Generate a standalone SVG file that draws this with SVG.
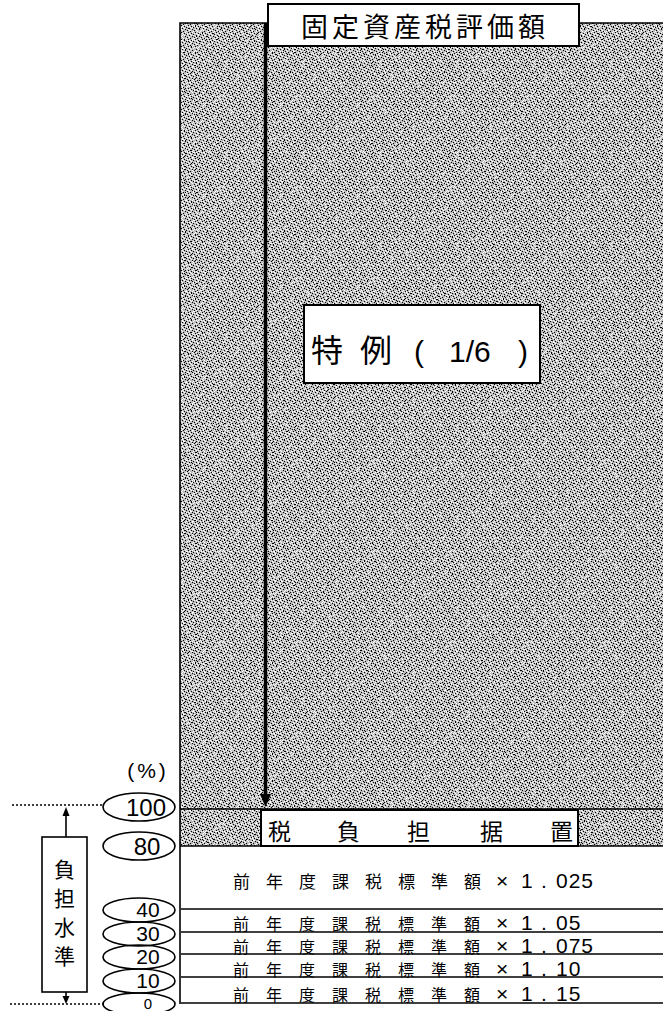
<svg xmlns="http://www.w3.org/2000/svg" width="663" height="1011" viewBox="0 0 663 1011">
<defs>
<style>
.jp{font-family:"Noto Sans CJK JP","Noto Sans CJK SC",sans-serif;fill:#000}
.num{font-family:"Liberation Sans",Arial,sans-serif;fill:#000}
.box{fill:#fff;stroke:#000;stroke-width:2}
.ln{stroke:#000;stroke-width:1.6;fill:none}
.dot{stroke:#000;stroke-width:1.5;stroke-dasharray:2 2;fill:none}
.ell{fill:none;stroke:#000;stroke-width:1.6}
.k{fill:#000}
.w{fill:#fff}
</style>
<pattern id="noiseA" x="0" y="0" width="7" height="7" patternUnits="userSpaceOnUse">
<rect width="7" height="7" fill="#bcbcbc"/>
<rect class="k" x="0" y="0" width="1" height="1"/><rect class="k" x="3" y="1" width="1" height="1"/><rect class="k" x="5" y="2" width="1" height="1"/><rect class="k" x="1" y="3" width="1" height="1"/><rect class="k" x="6" y="4" width="1" height="1"/><rect class="k" x="2" y="5" width="1" height="1"/><rect class="k" x="4" y="6" width="1" height="1"/>
<rect class="w" x="2" y="0" width="1" height="1"/><rect class="w" x="6" y="1" width="1" height="1"/><rect class="w" x="0" y="2" width="1" height="1"/><rect class="w" x="4" y="3" width="1" height="1"/><rect class="w" x="3" y="4" width="1" height="1"/><rect class="w" x="1" y="6" width="1" height="1"/><rect class="w" x="5" y="5" width="1" height="1"/><rect class="w" x="0" y="5" width="1" height="1"/>
</pattern>
<pattern id="noiseB" x="0" y="0" width="11" height="13" patternUnits="userSpaceOnUse">
<rect class="k" x="1" y="2" width="1" height="1"/><rect class="k" x="8" y="0" width="1" height="1"/><rect class="k" x="4" y="7" width="1" height="1"/><rect class="k" x="9" y="10" width="1" height="1"/>
<rect class="w" x="5" y="1" width="1" height="1"/><rect class="w" x="10" y="5" width="1" height="1"/><rect class="w" x="0" y="8" width="1" height="1"/><rect class="w" x="7" y="12" width="1" height="1"/><rect class="w" x="3" y="4" width="1" height="1"/><rect class="w" x="6" y="9" width="1" height="1"/>
</pattern>
</defs>
<rect width="663" height="1011" fill="#fff"/>

<g id="gray-area">
<rect fill="url(#noiseA)" x="180" y="23" width="483" height="823"/>
<rect fill="url(#noiseB)" x="180" y="23" width="483" height="823"/>
<path class="ln" d="M180,1004 V23 H663" stroke-width="2"/>
<line class="ln" x1="180" y1="809" x2="663" y2="809" stroke-width="2"/>
<line class="ln" x1="180" y1="846" x2="663" y2="846"/>
</g>

<g id="title">
<rect class="box" x="268" y="4" width="311" height="42"/>
<text class="jp" x="425" y="37" font-size="27" text-anchor="middle" letter-spacing="4">固定資産税評価額</text>
</g>

<g id="tokurei">
<rect class="box" x="304" y="305" width="236" height="78"/>
<text class="jp" x="311" y="362" font-size="32">特</text>
<text class="jp" x="360" y="362" font-size="32">例</text>
<text class="num" x="414" y="362" font-size="30">(</text>
<text class="num" x="449" y="362" font-size="30">1/6</text>
<text class="num" x="518" y="362" font-size="30">)</text>
</g>

<g id="connectors">
<line x1="265.5" y1="23" x2="265.5" y2="796" stroke="#000" stroke-width="3.5"/>
<polygon points="260,794 271,794 265.5,807" fill="#000"/>
<line class="ln" x1="66" y1="814" x2="66" y2="837"/>
<polygon points="62.5,816 69.5,816 66,807" fill="#000"/>
<line class="ln" x1="66" y1="992" x2="66" y2="998"/>
<polygon points="62.5,996 69.5,996 66,1004" fill="#000"/>
<line class="dot" x1="12" y1="805" x2="104" y2="805"/>
<line class="dot" x1="10" y1="1004" x2="104" y2="1004"/>
</g>

<g id="sueoki">
<rect class="box" x="261" y="810" width="317" height="36"/>
<text class="jp" x="268" y="840" font-size="23">税</text>
<text class="jp" x="337" y="840" font-size="23">負</text>
<text class="jp" x="407" y="840" font-size="23">担</text>
<text class="jp" x="480" y="840" font-size="23">据</text>
<text class="jp" x="550" y="840" font-size="23">置</text>
</g>

<g id="rows">
<line class="ln" x1="181" y1="909" x2="663" y2="909"/>
<line class="ln" x1="181" y1="932" x2="663" y2="932"/>
<line class="ln" x1="181" y1="954" x2="663" y2="954"/>
<line class="ln" x1="181" y1="977" x2="663" y2="977"/>
<line class="ln" x1="181" y1="1003" x2="663" y2="1003" stroke-width="2"/>
<g id="row-1025">
<text class="jp" x="233" y="888" font-size="17" letter-spacing="16">前年度課税標準額</text>
<text class="num" x="496" y="888" font-size="21">×<tspan x="521">1</tspan><tspan x="541">.</tspan><tspan x="556" letter-spacing="1">025</tspan></text>
</g>
<g id="row-105">
<text class="jp" x="233" y="930" font-size="16" letter-spacing="17">前年度課税標準額</text>
<text class="num" x="496" y="930" font-size="21">×<tspan x="521">1</tspan><tspan x="541">.</tspan><tspan x="556" letter-spacing="1">05</tspan></text>
</g>
<g id="row-1075">
<text class="jp" x="233" y="953" font-size="16" letter-spacing="17">前年度課税標準額</text>
<text class="num" x="496" y="953" font-size="21">×<tspan x="521">1</tspan><tspan x="541">.</tspan><tspan x="556" letter-spacing="1">075</tspan></text>
</g>
<g id="row-110">
<text class="jp" x="233" y="976" font-size="16" letter-spacing="17">前年度課税標準額</text>
<text class="num" x="496" y="976" font-size="21">×<tspan x="521">1</tspan><tspan x="541">.</tspan><tspan x="556" letter-spacing="1">10</tspan></text>
</g>
<g id="row-115">
<text class="jp" x="233" y="1001" font-size="16" letter-spacing="17">前年度課税標準額</text>
<text class="num" x="496" y="1001" font-size="21">×<tspan x="521">1</tspan><tspan x="541">.</tspan><tspan x="556" letter-spacing="1">15</tspan></text>
</g>
</g>

<g id="scale">
<text class="num" x="148" y="778" font-size="21" text-anchor="middle" letter-spacing="3">(%)</text>
<g id="p100"><ellipse class="ell" cx="139" cy="807" rx="36" ry="14"/><text class="num" x="146" y="816" font-size="24" text-anchor="middle">100</text></g>
<g id="p80"><ellipse class="ell" cx="139" cy="846" rx="36" ry="14"/><text class="num" x="147" y="855" font-size="24" text-anchor="middle">80</text></g>
<g id="p40"><ellipse class="ell" cx="139" cy="910" rx="36" ry="12"/><text class="num" x="148" y="917" font-size="21" text-anchor="middle">40</text></g>
<g id="p30"><ellipse class="ell" cx="139" cy="934" rx="36" ry="12"/><text class="num" x="148" y="941" font-size="21" text-anchor="middle">30</text></g>
<g id="p20"><ellipse class="ell" cx="139" cy="957" rx="36" ry="12"/><text class="num" x="148" y="964" font-size="21" text-anchor="middle">20</text></g>
<g id="p10"><ellipse class="ell" cx="139" cy="981" rx="36" ry="12"/><text class="num" x="148" y="988" font-size="21" text-anchor="middle">10</text></g>
<g id="p0"><ellipse class="ell" cx="139" cy="1004" rx="36" ry="11"/><text class="num" x="148" y="1009" font-size="15" text-anchor="middle">0</text></g>
</g>

<g id="futan-suijun">
<rect fill="#fff" stroke="#000" stroke-width="1.6" x="42" y="837" width="45" height="155"/>
<text class="jp" x="64.5" y="877" font-size="21" text-anchor="middle">負</text>
<text class="jp" x="64.5" y="906" font-size="21" text-anchor="middle">担</text>
<text class="jp" x="64.5" y="935" font-size="21" text-anchor="middle">水</text>
<text class="jp" x="64.5" y="964" font-size="21" text-anchor="middle">準</text>
</g>
</svg>
